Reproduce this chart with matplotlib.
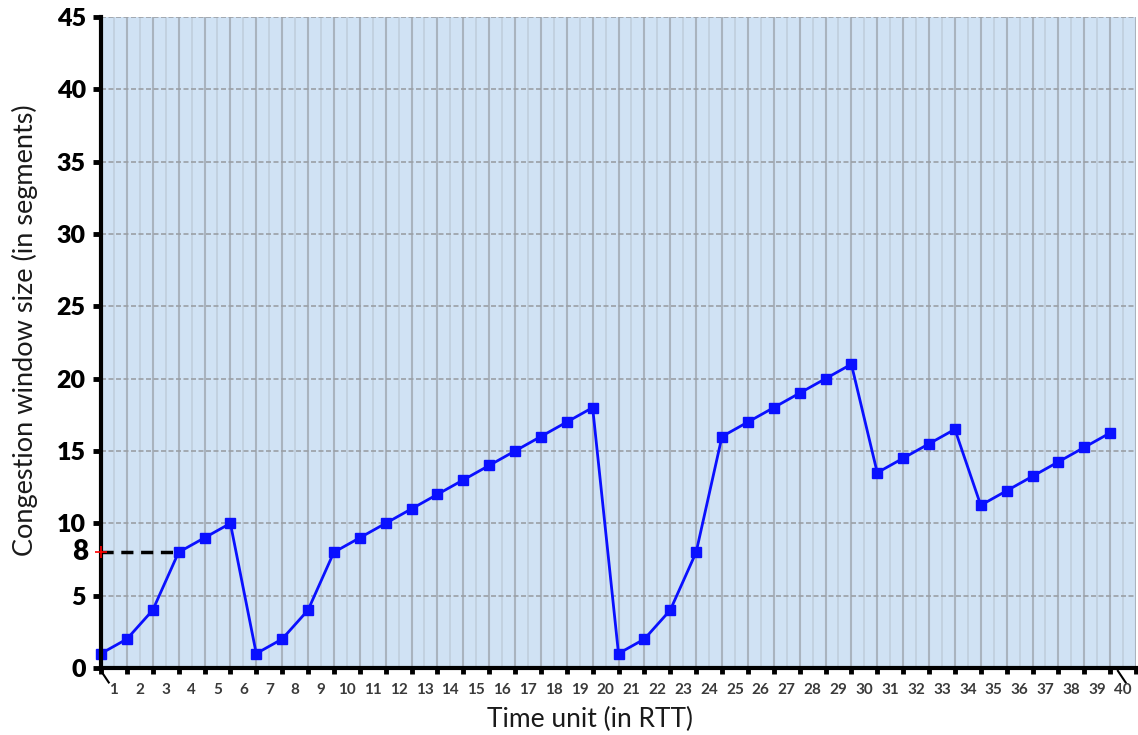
import numpy as np
import matplotlib.pyplot as plt
from matplotlib.lines import Line2D

# ====== data ======
rtt = list(range(1, 41))
cwnd = [1, 2, 4, 8, 9, 10, 1, 2, 4, 8,
        9, 10, 11, 12, 13, 14, 15, 16, 17, 18,
        1, 2, 4, 8, 16, 17, 18, 19, 20, 21,
        13.5, 14.5, 15.5, 16.5, 11.25, 12.25, 13.25, 14.25, 15.25, 16.25]
threshold = 8
y_ticks = [0, 5, 10, 15, 20, 25, 30, 35, 40, 45]

plt.rcParams['font.family'] = ['Lato', 'DejaVu Sans']

W, H = 1138, 735
fig = plt.figure(figsize=(W / 100, H / 100), dpi=100)
ax = fig.add_axes([101 / W, 67 / H, 1035 / W, 651 / H])

# points sit on the grid lines, labels sit between them
xpos = np.arange(len(rtt))
ax.set_xlim(0, 40)
ax.set_ylim(0, 45)
ax.set_facecolor('#d0e2f4')

# ====== grid ======
for i in range(0, 41):
    ax.axvline(i, color='#a9b3be', lw=1.5, zorder=1)
    ax.axvline(i + 0.5, color='#bfcddb', lw=1.1, zorder=1)
for v in y_ticks[1:]:
    ax.axhline(v, color='#9a9fa5', lw=1.2, ls=(0, (3, 1.5)), zorder=1)

# ====== threshold marker ======
ax.plot([0, xpos[3]], [threshold, threshold], color='black', lw=2.5, ls=(0, (3.5, 2.2)), zorder=2)
ax.plot([0], [threshold], marker='+', color='red', ms=8, mew=1.2, clip_on=False, zorder=6)
ax.text(-0.5, threshold, '8', fontsize=20, fontweight='heavy', ha='right', va='center')

ax.plot(xpos, cwnd, color='#0a10ff', lw=2, marker='s', ms=7.5, zorder=4, clip_on=False)

# ====== axes ======
for s in ['top', 'right']:
    ax.spines[s].set_visible(False)
for s in ['left', 'bottom']:
    ax.spines[s].set_linewidth(3)
    ax.spines[s].set_zorder(5)

ax.set_yticks(y_ticks)
ax.set_yticklabels([str(v) for v in y_ticks], fontsize=18, fontweight='heavy')
ax.tick_params(axis='y', length=6, width=3.5, pad=5)

ax.set_xticks(np.arange(0, 41))
ax.set_xticklabels([])
ax.tick_params(axis='x', length=4, width=3.5, direction='out')
for k, lab in zip(xpos, rtt):
    ax.text(k + 0.5, -1.55, str(lab), fontsize=11, fontweight='bold', color='#3a3a3a',
            ha='center', va='center')

# axis break slashes
for x0 in [0, 39.3]:
    ax.add_line(Line2D([x0, x0 + 0.3], [-0.2, -1.0], color='black', lw=1.5, clip_on=False))

fig.text(25 / W, 1 - 330 / H, 'Congestion window size (in segments)', fontsize=19.5,
         rotation=90, ha='center', va='center', color='#1a1a1a')
fig.text(590 / W, 1 - 719 / H, 'Time unit (in RTT)', fontsize=19, ha='center', va='center',
         color='#1a1a1a')

fig.savefig('out.png', dpi=100)
